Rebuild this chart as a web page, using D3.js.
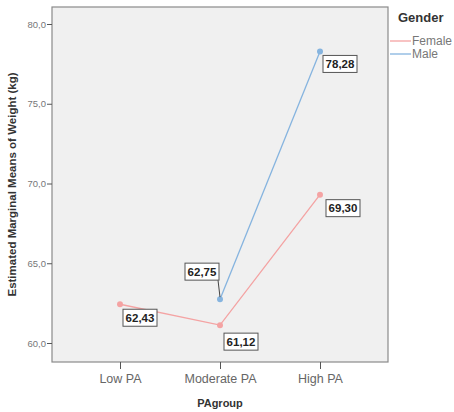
<!DOCTYPE html>
<html lang="en">
<head>
  <meta charset="UTF-8">
  <title>Estimated Marginal Means of Weight</title>
  <style>
    body { margin: 0; background: #fff; }
    text { font-family: Arial, "Liberation Sans", sans-serif; }
  </style>
</head>
<body>
  <svg id="svg" width="454" height="412"></svg>

  <script src="https://d3js.org/d3.v7.min.js"></script>
  <script>
    // data
    const groups = ['Low PA', 'Moderate PA', 'High PA']
    const femaleValues = [62.43, 61.12, 69.30]
    const maleGroups = ['Moderate PA', 'High PA']
    const maleValues = [62.75, 78.28]
    const yTicks = [60, 65, 70, 75, 80]

    const plot = { left: 52, top: 7, right: 388, bottom: 362 }

    const svg = d3.select('#svg')

    // x scale
    const xscale = d3.scalePoint()
      .domain(groups)
      .range([plot.left, plot.right])
      .padding(0.68)

    // y scale
    const yscale = d3.scaleLinear()
      .domain([60, 80])
      .range([343, 24])

    const fmt = v => d3.format('.2f')(v).replace('.', ',')

    // plot background
    svg.append('rect')
      .attr('x', plot.left)
      .attr('y', plot.top)
      .attr('width', plot.right - plot.left)
      .attr('height', plot.bottom - plot.top)
      .attr('fill', '#f0f0f0')
      .attr('stroke', '#8a8a8a')
      .attr('stroke-width', 1.2)

    // left axis
    const leftAxis = d3.axisLeft(yscale)
      .tickValues(yTicks)
      .tickSize(5)
      .tickFormat(d => d3.format('.1f')(d).replace('.', ','))
    const gy = svg.append('g')
      .attr('transform', `translate(${plot.left}, 0)`)
      .call(leftAxis)
    gy.select('.domain').remove()
    gy.selectAll('line').attr('stroke', '#555')
    gy.selectAll('text').attr('fill', '#777').attr('font-size', 9.5).attr('x', -6)

    // bottom axis
    const bottomAxis = d3.axisBottom(xscale).tickSize(7)
    const gx = svg.append('g')
      .attr('transform', `translate(0, ${plot.bottom})`)
      .call(bottomAxis)
    gx.select('.domain').remove()
    gx.selectAll('line').attr('stroke', '#555')
    gx.selectAll('text').attr('fill', '#666').attr('font-size', 12.5).attr('y', 12)

    // axis titles
    svg.append('text')
      .attr('x', xscale('Moderate PA'))
      .attr('y', 407)
      .attr('text-anchor', 'middle')
      .attr('font-size', 11)
      .attr('font-weight', 'bold')
      .attr('fill', '#333')
      .text('PAgroup')

    svg.append('text')
      .attr('transform', `translate(16, ${(plot.top + plot.bottom) / 2}) rotate(-90)`)
      .attr('text-anchor', 'middle')
      .attr('font-size', 11.5)
      .attr('font-weight', 'bold')
      .attr('fill', '#333')
      .text('Estimated Marginal Means of Weight (kg)')

    const series = [
      { name: 'Female', color: '#f4a3a3', pts: groups.map((g, i) => ({ g, v: femaleValues[i] })) },
      { name: 'Male', color: '#86b4df', pts: maleGroups.map((g, i) => ({ g, v: maleValues[i] })) }
    ]

    const line = d3.line().x(d => xscale(d.g)).y(d => yscale(d.v))

    series.forEach(s => {
      svg.append('path')
        .attr('d', line(s.pts))
        .attr('fill', 'none')
        .attr('stroke', s.color)
        .attr('stroke-width', 1.3)
      svg.append('g')
        .selectAll('circle')
        .data(s.pts)
        .enter()
        .append('circle')
        .attr('cx', d => xscale(d.g))
        .attr('cy', d => yscale(d.v))
        .attr('r', 3)
        .attr('fill', s.color)
    })

    // value labels (offset from point)
    const labels = [
      { g: 'Low PA', v: femaleValues[0], dx: 3, dy: 5 },
      { g: 'Moderate PA', v: femaleValues[1], dx: 4, dy: 8 },
      { g: 'High PA', v: femaleValues[2], dx: 6, dy: 5 },
      { g: 'Moderate PA', v: maleValues[0], dx: -35, dy: -36, lead: true },
      { g: 'High PA', v: maleValues[1], dx: 3, dy: 4 }
    ]

    const lg = svg.append('g')
    labels.forEach(d => {
      const px = xscale(d.g), py = yscale(d.v)
      const bx = px + d.dx, by = py + d.dy
      const w = 34, h = 17
      if (d.lead) {
        lg.append('line')
          .attr('x1', bx + w - 1).attr('y1', by + h)
          .attr('x2', px).attr('y2', py - 2)
          .attr('stroke', '#444').attr('stroke-width', 1)
      }
      lg.append('rect')
        .attr('x', bx).attr('y', by)
        .attr('width', w).attr('height', h)
        .attr('fill', '#fff')
        .attr('stroke', '#555')
        .attr('stroke-width', 1)
      lg.append('text')
        .attr('x', bx + w / 2).attr('y', by + 12.5)
        .attr('text-anchor', 'middle')
        .attr('font-size', 11.5)
        .attr('font-weight', 'bold')
        .attr('fill', '#222')
        .text(fmt(d.v))
    })

    // legend
    svg.append('text')
      .attr('x', 398).attr('y', 22)
      .attr('font-size', 13)
      .attr('font-weight', 'bold')
      .attr('fill', '#333')
      .text('Gender')

    series.forEach((s, i) => {
      const y = 41 + i * 13
      svg.append('line')
        .attr('x1', 390).attr('x2', 411)
        .attr('y1', y).attr('y2', y)
        .attr('stroke', s.color).attr('stroke-width', 1.3)
      svg.append('text')
        .attr('x', 412).attr('y', y + 4)
        .attr('font-size', 12)
        .attr('fill', '#777')
        .text(s.name)
    })
  </script>
</body>
</html>
